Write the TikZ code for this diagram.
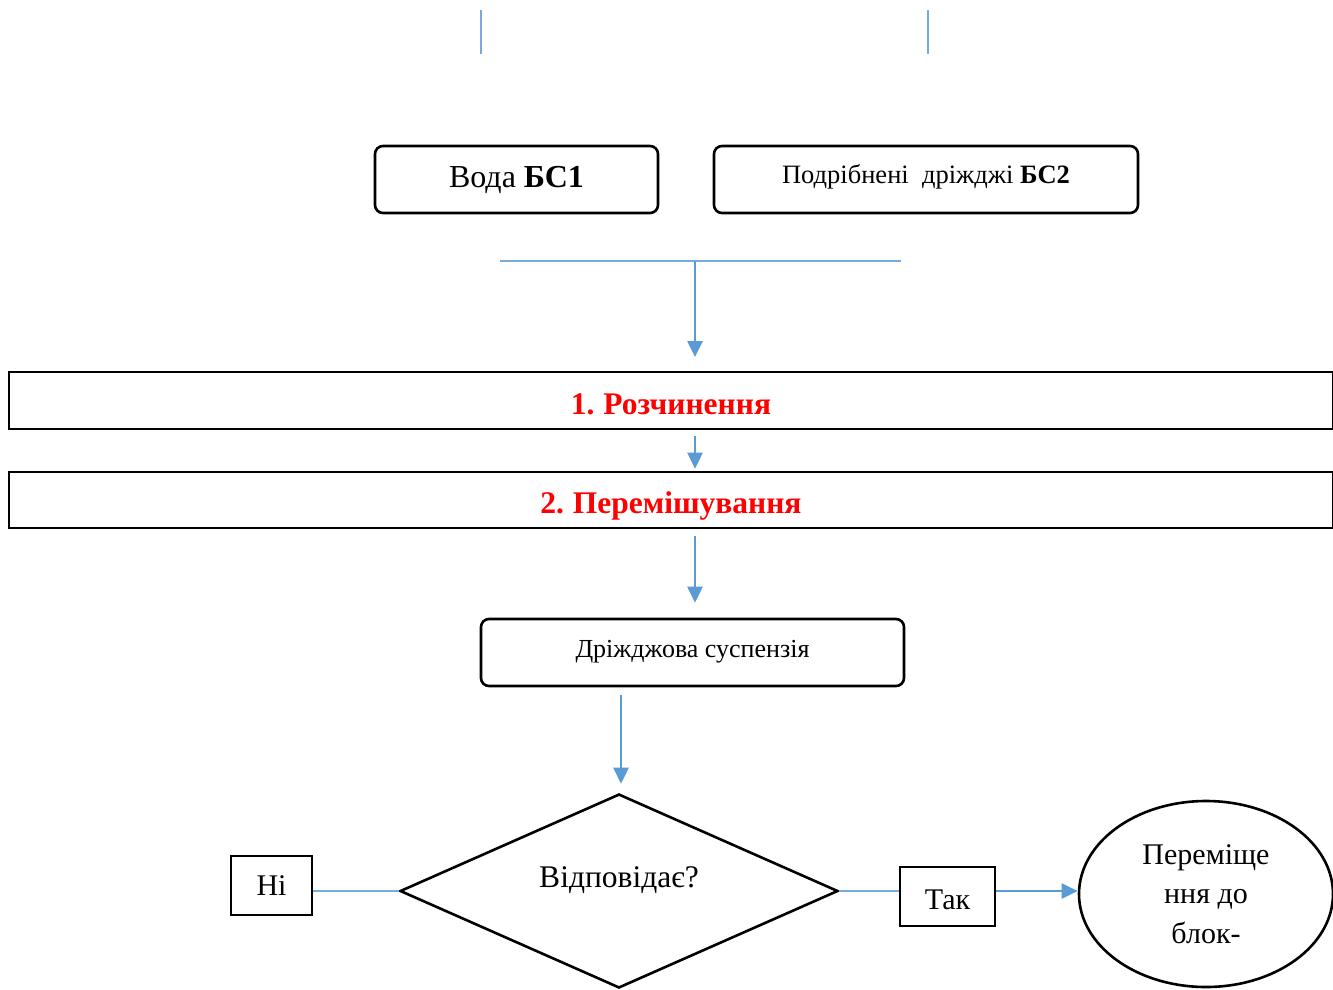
\documentclass[tikz,border=0pt]{standalone}
\usepackage{fontspec}
\setmainfont{Liberation Serif}
\usetikzlibrary{arrows.meta,shapes.geometric}

\definecolor{flow}{RGB}{91,155,213}
\definecolor{flowlight}{RGB}{120,170,220}

\tikzset{
  roundbox/.style={draw=black, line width=2.6pt, rounded corners=8pt, inner sep=0pt},
  stagebox/.style={draw=black, line width=2.6pt, inner sep=0pt, text=red,
    text height=33pt, text depth=6pt,
    font=\fontsize{31.5}{36}\selectfont\bfseries},
  answer/.style={draw=black, line width=2.6pt, inner sep=0pt,
    font=\fontsize{30}{34}\selectfont},
  thinlink/.style={draw=flowlight, line width=1.1pt},
  arrowlink/.style={draw=flow, line width=2.6pt,
    -{Triangle[width=15pt,length=16pt]}},
}

\begin{document}
\begin{tikzpicture}[x=1pt,y=-1pt]
\useasboundingbox (0,0) rectangle (1333,989);

% two short guide strokes at the top
\coordinate (g1a) at (481,10); \coordinate (g1b) at (481,54);
\coordinate (g2a) at (928,10); \coordinate (g2b) at (928,54);
\draw[thinlink] (g1a) -- (g1b);
\draw[thinlink] (g2a) -- (g2b);

% input components
\node[roundbox, minimum width=283pt, minimum height=67pt,
      font=\fontsize{32}{36}\selectfont] (water) at (516.5,179.5)
      {Вода \textbf{БС1}};
\node[roundbox, minimum width=424pt, minimum height=67pt,
      text height=17pt, text depth=9pt,
      font=\fontsize{26.5}{30}\selectfont] (yeast) at (926,179.5)
      {Подрібнені\ \ дріжджі \textbf{БС2}};

% collector and feed arrow
\coordinate (colL) at (500,261);
\coordinate (colR) at (901,261);
\coordinate (colM) at (695,261);
\draw[thinlink] (colL) -- (colR);

% process stages
\node[stagebox, minimum width=1324pt, minimum height=57pt] (st1) at (671,400.5)
      {1.\hspace{0.28em}Розчинення};
\node[stagebox, minimum width=1324pt, minimum height=56pt] (st2) at (671,500)
      {2.\hspace{0.28em}Перемішування};

\coordinate (in1) at (695,357);
\draw[arrowlink] (colM) -- (in1);
\draw[arrowlink, shorten <=6pt, shorten >=2pt] (st1.south -| colM) -- (st2.north -| colM);

% suspension
\node[roundbox, minimum width=423pt, minimum height=67pt,
      text height=18pt, text depth=8pt,
      font=\fontsize{26}{30}\selectfont] (susp) at (692.5,652.5)
      {Дріжджова суспензія};
\draw[arrowlink, shorten <=7pt, shorten >=15pt] (st2.south -| colM) -- (susp.north -| colM);

% decision
\node[draw=black, line width=2.6pt, diamond, inner sep=0pt,
      minimum width=438pt, minimum height=194pt] (check) at (619,891) {};
\node[font=\fontsize{31.5}{34}\selectfont, inner sep=0pt] (checkT) at (619,880)
      {Відповідає?};
\coordinate (dx) at (621,0);
\draw[arrowlink, shorten <=8pt, shorten >=9pt] (susp.south -| dx) -- (check.north -| dx);

% answers
\node[answer, minimum width=81pt, minimum height=59pt] (no) at (271.5,885.5)
      {Ні};
\node[answer, minimum width=95pt, minimum height=59pt,
      text height=25pt, text depth=0pt] (yes) at (947.5,896.5)
      {Так};
\draw[thinlink] (no.east |- check.west) -- (check.west);
\draw[thinlink] (check.east) -- (yes.west |- check.east);

% destination
\node[draw=black, line width=2.6pt, ellipse, inner sep=0pt,
      minimum width=254pt, minimum height=186pt, align=center,
      font=\fontsize{30}{39.5}\selectfont] (dest) at (1206,894)
      {Переміще\\ння до\\блок-};
\draw[arrowlink] (yes.east |- check.east) -- (dest.west |- check.east);

\end{tikzpicture}
\end{document}
